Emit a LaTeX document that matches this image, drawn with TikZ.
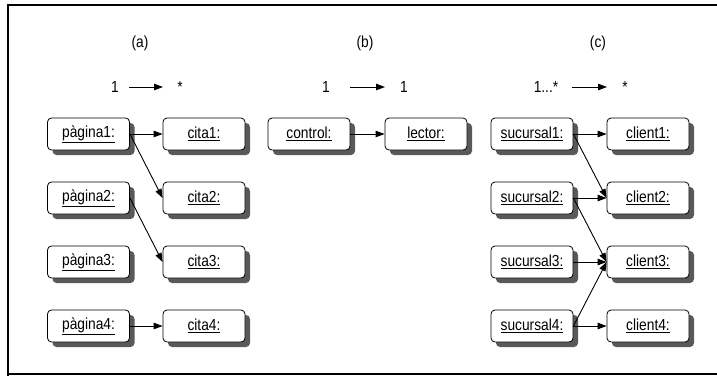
\documentclass[tikz,border=0pt]{standalone}
\usepackage{fontspec}
\setmainfont{Liberation Sans}[FakeStretch=0.86]
\usetikzlibrary{arrows.meta,shadows}
\begin{document}
\begin{tikzpicture}[x=1pt,y=-1pt,
    font=\fontsize{16}{18}\selectfont,
    objbox/.style={draw,line width=0.8pt,rounded corners=4pt,fill=white,
      minimum width=82pt,minimum height=32pt,inner sep=0pt,
      drop shadow={shadow xshift=5pt,shadow yshift=-5pt,fill=black!65,opacity=1}},
    link/.style={line width=0.9pt,-{Triangle[length=9pt,width=6.5pt]}}]
      \useasboundingbox (0,0) rectangle (717,376);
      \draw[line width=1.6pt] (717,5) -- (8,5) -- (8,376);
      \draw[line width=1.6pt] (8,374) -- (717,374);
      % titles and multiplicities
      \node (ta) at (140,43) {(a)};
      \node (tb) at (365,43) {(b)};
      \node (tc) at (598,43) {(c)};
      \node (ma) at (115,87) {1};
      \node (na) at (180,87) {*};
      \node (mb) at (326,87) {1};
      \node (nb) at (404,87) {1};
      \node (mc) at (546,87) {1...*};
      \node (nc) at (625,87) {*};
      \coordinate (ma1) at (129,87);
      \coordinate (na1) at (163,87);
      \coordinate (mb1) at (350,87);
      \coordinate (nb1) at (385,87);
      \coordinate (mc1) at (572,87);
      \coordinate (nc1) at (607,87);
      \draw[link] (ma1) -- (na1);
      \draw[link] (mb1) -- (nb1);
      \draw[link] (mc1) -- (nc1);
      % (a)
      \node[objbox] (p1) at (88.5,134) {\underline{pàgina1:}};
      \node[objbox] (p2) at (88.5,198) {\underline{pàgina2:}};
      \node[objbox] (p3) at (88.5,262) {\underline{pàgina3:}};
      \node[objbox] (p4) at (88.5,326) {\underline{pàgina4:}};
      \node[objbox] (c1) at (204,134) {\underline{cita1:}};
      \node[objbox] (c2) at (204,198) {\underline{cita2:}};
      \node[objbox] (c3) at (204,262) {\underline{cita3:}};
      \node[objbox] (c4) at (204,326) {\underline{cita4:}};
      \draw[link] (p1.east) -- (c1.west);
      \draw[link] (p1.east) -- (c2.west);
      \draw[link] (p2.east) -- (c3.west);
      \draw[link] (p4.east) -- (c4.west);
      % (b)
      \node[objbox] (ctl) at (309,134) {\underline{control:}};
      \node[objbox] (lec) at (426,134) {\underline{lector:}};
      \draw[link] (ctl.east) -- (lec.west);
      % (c)
      \node[objbox] (s1) at (532,134) {\underline{sucursal1:}};
      \node[objbox] (s2) at (532,198) {\underline{sucursal2:}};
      \node[objbox] (s3) at (532,262) {\underline{sucursal3:}};
      \node[objbox] (s4) at (532,326) {\underline{sucursal4:}};
      \node[objbox] (k1) at (648,134) {\underline{client1:}};
      \node[objbox] (k2) at (648,198) {\underline{client2:}};
      \node[objbox] (k3) at (648,262) {\underline{client3:}};
      \node[objbox] (k4) at (648,326) {\underline{client4:}};
      \draw[link] (s1.east) -- (k1.west);
      \draw[link] (s1.east) -- (k2.west);
      \draw[link] (s2.east) -- (k2.west);
      \draw[link] (s2.east) -- (k3.west);
      \draw[link] (s3.east) -- (k3.west);
      \draw[link] (s4.east) -- (k3.west);
      \draw[link] (s4.east) -- (k4.west);
\end{tikzpicture}
\end{document}
